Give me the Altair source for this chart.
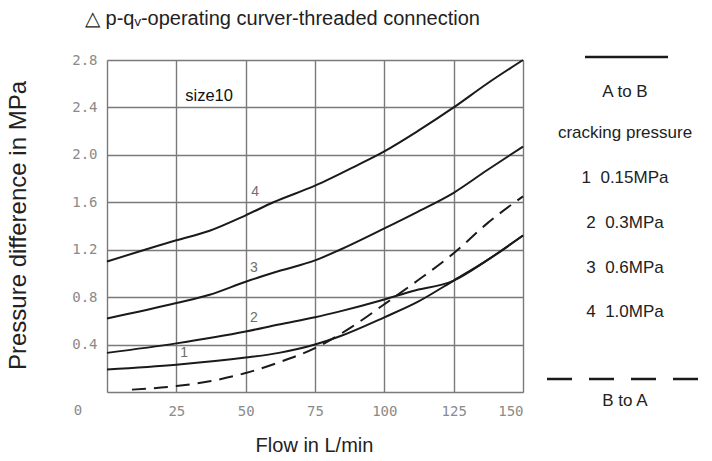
import altair as alt
import pandas as pd

# ---- data ----
flow_1 = [0, 25, 50, 62, 75, 84, 100, 112, 125, 137, 150]
dp_1 = [0.19, 0.23, 0.29, 0.33, 0.40, 0.47, 0.63, 0.76, 0.94, 1.11, 1.32]

flow_2 = [0, 25, 50, 62, 75, 84, 100, 110, 125, 137, 150]
dp_2 = [0.33, 0.41, 0.51, 0.57, 0.63, 0.68, 0.78, 0.85, 0.94, 1.11, 1.32]

flow_3 = [0, 25, 37, 50, 62, 75, 84, 100, 112, 125, 137, 150]
dp_3 = [0.62, 0.75, 0.82, 0.93, 1.02, 1.11, 1.20, 1.38, 1.52, 1.68, 1.87, 2.07]

flow_4 = [0, 25, 37, 50, 60, 75, 90, 100, 112, 125, 137, 150]
dp_4 = [1.10, 1.28, 1.36, 1.49, 1.60, 1.74, 1.91, 2.03, 2.20, 2.40, 2.60, 2.80]

flow_ba = [9, 25, 37, 50, 62, 75, 87, 100, 112, 125, 137, 150]
dp_ba = [0.02, 0.05, 0.09, 0.16, 0.25, 0.37, 0.53, 0.74, 0.94, 1.17, 1.42, 1.65]

curve_label_text = ["1", "2", "3", "4"]
curve_label_flow = [27.8, 53, 53, 53.4]
curve_label_dp = [0.33, 0.62, 1.05, 1.69]

x_ticks = [0, 25, 50, 75, 100, 125, 150]
y_ticks = [0, 0.4, 0.8, 1.2, 1.6, 2.0, 2.4, 2.8]

title_text = "\u25b3 p-q\u1d65-operating curver-threaded connection"
x_title = "Flow in L/min"
y_title = "Pressure difference in MPa"
size_text = "size10"
legend_top = "A to B"
legend_lines = ["cracking pressure", "1\u00a0 0.15MPa", "2\u00a0 0.3MPa",
                "3\u00a0 0.6MPa", "4\u00a0 1.0MPa"]
legend_bottom = "B to A"

FONT = "Liberation Sans"
MONO = "DejaVu Sans Mono"

rows = []
for name, fl, dp in [("1", flow_1, dp_1), ("2", flow_2, dp_2),
                     ("3", flow_3, dp_3), ("4", flow_4, dp_4)]:
    for f, d in zip(fl, dp):
        rows.append({"curve": name, "flow": f, "dp": d})
solid = pd.DataFrame(rows)
dashed = pd.DataFrame({"flow": flow_ba, "dp": dp_ba})
labels = pd.DataFrame({"t": curve_label_text, "flow": curve_label_flow, "dp": curve_label_dp})

xs = alt.Scale(domain=[0, 150], nice=False, zero=False)
ys = alt.Scale(domain=[0, 2.8], nice=False, zero=False)

x_axis = alt.Axis(values=x_ticks, grid=True, gridColor="#7a7a7a", gridWidth=1.4,
                  domain=False, ticks=False, labelFont=MONO, labelFontSize=14,
                  labelColor="#8a8a8a", labelPadding=12,
                  labelExpr="datum.value == 0 ? '' : datum.label",
                  title=x_title, titleFont=FONT, titleFontSize=20, titleFontWeight="normal",
                  titleColor="#222", titleX=207, titleY=59, titleBaseline="alphabetic",
                  titleAlign="center")
y_axis = alt.Axis(values=y_ticks, grid=True, gridColor="#7a7a7a", gridWidth=1.4,
                  domain=False, ticks=False, labelFont=MONO, labelFontSize=14,
                  labelColor="#8a8a8a", labelPadding=10, format=".1f",
                  labelExpr="datum.value == 0 ? '' : datum.label",
                  title=y_title, titleFont=FONT, titleFontSize=24, titleFontWeight="normal",
                  titleColor="#222", titleX=-89, titleY=165, titleBaseline="middle",
                  titleAlign="center", titleAngle=-90)

lines = alt.Chart(solid).mark_line(color="#1a1a1a", strokeWidth=2, interpolate="monotone").encode(
    x=alt.X("flow:Q", scale=xs, axis=x_axis),
    y=alt.Y("dp:Q", scale=ys, axis=y_axis),
    detail="curve:N",
)
dash = alt.Chart(dashed).mark_line(color="#1a1a1a", strokeWidth=2, strokeDash=[14, 8],
                                   interpolate="monotone").encode(
    x=alt.X("flow:Q", scale=xs), y=alt.Y("dp:Q", scale=ys))

num_labels = alt.Chart(labels).mark_text(font=FONT, fontSize=14, color="#6e6e6e",
                                         baseline="middle").encode(
    x=alt.X("flow:Q", scale=xs), y=alt.Y("dp:Q", scale=ys), text="t:N")

size_lbl = alt.Chart(pd.DataFrame({"t": [size_text], "flow": [36.8], "dp": [2.50]})).mark_text(
    font=FONT, fontSize=16.5, color="#111", baseline="middle").encode(
    x=alt.X("flow:Q", scale=xs), y=alt.Y("dp:Q", scale=ys), text="t:N")

origin = alt.Chart(pd.DataFrame({"t": ["0"], "flow": [0], "dp": [0]})).mark_text(
    font=MONO, fontSize=14, color="#8a8a8a", dx=-29, dy=19, baseline="middle").encode(
    x=alt.X("flow:Q", scale=xs), y=alt.Y("dp:Q", scale=ys), text="t:N")

title = alt.Chart(pd.DataFrame({"t": [title_text]})).mark_text(
    font=FONT, fontSize=20, color="#222", align="left", baseline="alphabetic").encode(
    x=alt.value(-22), y=alt.value(-35), text="t:N")

LX = 518
LFS = 17
legend_layers = []
legend_layers.append(alt.Chart(pd.DataFrame({"a": [0]})).mark_rule(color="#1a1a1a", strokeWidth=2.5).encode(
    x=alt.value(478), x2=alt.value(561), y=alt.value(-3)))
legend_layers.append(alt.Chart(pd.DataFrame({"a": [0]})).mark_rule(
    color="#1a1a1a", strokeWidth=2.5, strokeDash=[25, 17]).encode(
    x=alt.value(440), x2=alt.value(592), y=alt.value(319)))
ypos = [73, 118, 163, 208, 252]
legend_layers.append(alt.Chart(pd.DataFrame({"t": [legend_top]})).mark_text(
    font=FONT, fontSize=LFS, color="#222", baseline="middle").encode(
    x=alt.value(LX), y=alt.value(32), text="t:N"))
for t, yv in zip(legend_lines, ypos):
    legend_layers.append(alt.Chart(pd.DataFrame({"t": [t]})).mark_text(
        font=FONT, fontSize=LFS, color="#222", baseline="middle").encode(
        x=alt.value(LX), y=alt.value(yv), text="t:N"))
legend_layers.append(alt.Chart(pd.DataFrame({"t": [legend_bottom]})).mark_text(
    font=FONT, fontSize=LFS, color="#222", baseline="middle").encode(
    x=alt.value(LX), y=alt.value(341), text="t:N"))

chart = alt.layer(lines, dash, num_labels, size_lbl, origin, title, *legend_layers).properties(
    width=416, height=332,
    autosize=alt.AutoSizeParams(type="none"),
    padding={"left": 107, "top": 60, "right": 189, "bottom": 69},
).configure_view(stroke="#9a9a9a", strokeWidth=2.2).configure(background="white")

chart.save("out.html", embed_options={"renderer": "svg", "actions": False})
